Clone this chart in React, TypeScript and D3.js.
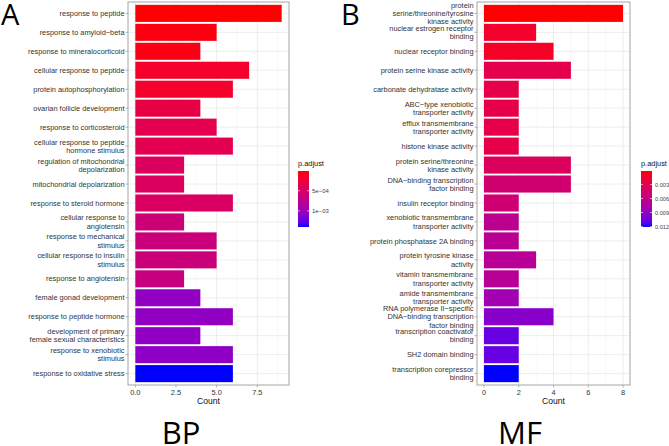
import React from "react";
import * as d3 from "d3";

// ---- BP panel data ----
const bpTerms = [
  "response to peptide",
  "response to amyloid\u2212beta",
  "response to mineralocorticoid",
  "cellular response to peptide",
  "protein autophosphorylation",
  "ovarian follicle development",
  "response to corticosteroid",
  "cellular response to peptide\nhormone stimulus",
  "regulation of mitochondrial\ndepolarization",
  "mitochondrial depolarization",
  "response to steroid hormone",
  "cellular response to\nangiotensin",
  "response to mechanical\nstimulus",
  "cellular response to insulin\nstimulus",
  "response to angiotensin",
  "female gonad development",
  "response to peptide hormone",
  "development of primary\nfemale sexual characteristics",
  "response to xenobiotic\nstimulus",
  "response to oxidative stress",
];
const bpCounts = [9, 5, 4, 7, 6, 4, 5, 6, 3, 3, 6, 3, 5, 5, 3, 4, 6, 4, 6, 6];
const bpPadj = [
  0.00001, 0.00005, 0.00006, 0.00015, 0.00016, 0.0003, 0.00035, 0.00036, 0.00045, 0.00045,
  0.00047, 0.0006, 0.00062, 0.00062, 0.00065, 0.00105, 0.00105, 0.00105, 0.00107, 0.0014,
];
const bpXTicks = [0, 2.5, 5, 7.5];
const bpXTickLabels = ["0.0", "2.5", "5.0", "7.5"];
const bpLegendTicks = [0.0005, 0.001];
const bpLegendLabels = ["5e\u221204", "1e\u221203"];

// ---- MF panel data ----
const mfTerms = [
  "protein\nserine/threonine/tyrosine\nkinase activity",
  "nuclear estrogen receptor\nbinding",
  "nuclear receptor binding",
  "protein serine kinase activity",
  "carbonate dehydratase activity",
  "ABC\u2212type xenobiotic\ntransporter activity",
  "efflux transmembrane\ntransporter activity",
  "histone kinase activity",
  "protein serine/threonine\nkinase activity",
  "DNA\u2212binding transcription\nfactor binding",
  "insulin receptor binding",
  "xenobiotic transmembrane\ntransporter activity",
  "protein phosphatase 2A binding",
  "protein tyrosine kinase\nactivity",
  "vitamin transmembrane\ntransporter activity",
  "amide transmembrane\ntransporter activity",
  "RNA polymerase II\u2212specific\nDNA\u2212binding transcription\nfactor binding",
  "transcription coactivator\nbinding",
  "SH2 domain binding",
  "transcription corepressor\nbinding",
];
const mfCounts = [8, 3, 4, 5, 2, 2, 2, 2, 5, 5, 2, 2, 2, 3, 2, 2, 4, 2, 2, 2];
const mfPadj = [
  0.0001, 0.0014, 0.0012, 0.003, 0.0028, 0.0028, 0.0028, 0.0028, 0.0038, 0.0048,
  0.005, 0.0065, 0.0066, 0.0068, 0.0068, 0.0082, 0.0095, 0.0107, 0.0107, 0.0121,
];
const mfXTicks = [0, 2, 4, 6, 8];
const mfXTickLabels = ["0", "2", "4", "6", "8"];
const mfLegendTicks = [0.003, 0.006, 0.009, 0.012];
const mfLegendLabels = ["0.003", "0.006", "0.009", "0.012"];

const FONT = "'Liberation Sans', Arial, Helvetica, sans-serif";
const BIG = "'Open Sans', 'Noto Sans', sans-serif";

type PanelProps = {
  terms: string[];
  counts: number[];
  padj: number[];
  xDomain: [number, number];
  xRange: [number, number];
  xTicks: number[];
  xTickLabels: string[];
  legendTicks: number[];
  legendLabels: string[];
  legendX: number;
  legendFont: number;
};

function Panel(p: PanelProps) {
  const top = 2;
  const bottom = 385;
  const [left, right] = p.xRange;
  const x = d3.scaleLinear().domain(p.xDomain).range(p.xRange);
  const y = d3
    .scaleBand<string>()
    .domain(p.terms)
    .range([top, bottom])
    .paddingInner(0.1)
    .paddingOuter(0.15);
  const step = y.step();
  const pMin = d3.min(p.padj) as number;
  const pMax = d3.max(p.padj) as number;
  const interp = d3.interpolateLab("#FF0000", "#0000FF");
  const color = (v: number) => interp((v - pMin) / (pMax - pMin));
  const minorTicks = p.xTicks
    .slice(0, -1)
    .map((t, i) => (t + p.xTicks[i + 1]) / 2)
    .concat([p.xTicks[p.xTicks.length - 1] + (p.xTicks[1] - p.xTicks[0]) / 2])
    .filter((t) => x(t) < right);

  // legend
  const lgTop = 171;
  const lgBottom = 227;
  const lgY = d3.scaleLinear().domain([pMin, pMax]).range([lgTop, lgBottom]);
  const gradId = "grad" + Math.round(left);
  const stops = d3.range(0, 1.0001, 0.05);

  return (
    <g>
      <rect x={left} y={top} width={right - left} height={bottom - top} fill="#fff" />
      {minorTicks.map((t, i) => (
        <line key={"mn" + i} x1={x(t)} x2={x(t)} y1={top} y2={bottom} stroke="#F2F2F2" strokeWidth={0.5} />
      ))}
      {p.terms.map((t) => (
        <line
          key={"hg" + t}
          x1={left}
          x2={right}
          y1={(y(t) as number) + y.bandwidth() / 2}
          y2={(y(t) as number) + y.bandwidth() / 2}
          stroke="#EBEBEB"
          strokeWidth={0.9}
        />
      ))}
      {p.xTicks.map((t, i) => (
        <line key={"vg" + i} x1={x(t)} x2={x(t)} y1={top} y2={bottom} stroke="#EBEBEB" strokeWidth={0.9} />
      ))}
      {p.terms.map((t, i) => (
        <rect
          key={"b" + t}
          x={x(0)}
          y={y(t) as number}
          width={x(p.counts[i]) - x(0)}
          height={y.bandwidth()}
          fill={color(p.padj[i])}
        />
      ))}
      <rect x={left} y={top} width={right - left} height={bottom - top} fill="none" stroke="#A6A6A6" strokeWidth={1} />
      {/* y axis labels */}
      {p.terms.map((t) => {
        const lines = t.split("\n");
        const cy = (y(t) as number) + y.bandwidth() / 2;
        const lh = 8.2;
        return (
          <g key={"yl" + t}>
            <line x1={left - 2.5} x2={left} y1={cy} y2={cy} stroke="#888" strokeWidth={0.6} />
            <text
              x={left - 3.5}
              textAnchor="end"
              fontFamily={FONT}
              fontSize={7.4}
              fill="#333"
            >
              {lines.map((ln, j) => (
                <tspan key={j} x={left - 3.5} y={cy - ((lines.length - 1) * lh) / 2 + j * lh + 2.6}>
                  {ln}
                </tspan>
              ))}
            </text>
          </g>
        );
      })}
      {/* x axis */}
      {p.xTicks.map((t, i) => (
        <g key={"xt" + i}>
          <line x1={x(t)} x2={x(t)} y1={bottom} y2={bottom + 2.5} stroke="#888" strokeWidth={0.6} />
          <text x={x(t)} y={bottom + 9.5} textAnchor="middle" fontFamily={FONT} fontSize={7.4} fill="#333">
            {p.xTickLabels[i]}
          </text>
        </g>
      ))}
      <text x={(left + right) / 2} y={bottom + 18.5} textAnchor="middle" fontFamily={FONT} fontSize={8.6} fill="#111">
        Count
      </text>
      {/* legend */}
      <defs>
        <linearGradient id={gradId} x1="0" y1="0" x2="0" y2="1">
          {stops.map((s, i) => (
            <stop key={i} offset={s} stopColor={interp(s)} />
          ))}
        </linearGradient>
      </defs>
      <text x={p.legendX} y={166} fontFamily={FONT} fontSize={7.4} fill="#111">
        p.adjust
      </text>
      <rect x={p.legendX} y={lgTop} width={11} height={lgBottom - lgTop} fill={`url(#${gradId})`} />
      {p.legendTicks.map((t, i) => (
        <g key={"lt" + i}>
          <line x1={p.legendX} x2={p.legendX + 2} y1={lgY(t)} y2={lgY(t)} stroke="#fff" strokeWidth={0.6} />
          <line x1={p.legendX + 9} x2={p.legendX + 11} y1={lgY(t)} y2={lgY(t)} stroke="#fff" strokeWidth={0.6} />
          <text x={p.legendX + 14} y={lgY(t) + 2} fontFamily={FONT} fontSize={p.legendFont} fill="#444">
            {p.legendLabels[i]}
          </text>
        </g>
      ))}
    </g>
  );
}

export default function App() {
  return (
    <svg
      width={669}
      height={446}
      viewBox="0 0 669 446"
      style={{ position: "absolute", left: 0, top: 0, background: "#fff" }}
    >
      <rect width={669} height={446} fill="#fff" />
      <Panel
        terms={bpTerms}
        counts={bpCounts}
        padj={bpPadj}
        xDomain={[-0.45, 9.45]}
        xRange={[128, 289]}
        xTicks={bpXTicks}
        xTickLabels={bpXTickLabels}
        legendTicks={bpLegendTicks}
        legendLabels={bpLegendLabels}
        legendX={298}
        legendFont={6}
      />
      <Panel
        terms={mfTerms}
        counts={mfCounts}
        padj={mfPadj}
        xDomain={[-0.4, 8.4]}
        xRange={[477, 630]}
        xTicks={mfXTicks}
        xTickLabels={mfXTickLabels}
        legendTicks={mfLegendTicks}
        legendLabels={mfLegendLabels}
        legendX={641}
        legendFont={5.6}
      />
      <text x={1} y={25} fontFamily={BIG} fontSize={29} fill="#000">A</text>
      <text x={341} y={25} fontFamily={BIG} fontSize={29} fill="#000">B</text>
      <text x={181} y={444} textAnchor="middle" fontFamily={BIG} fontSize={31} fill="#000">BP</text>
      <text x={520} y={444} textAnchor="middle" fontFamily={BIG} fontSize={31} fill="#000">MF</text>
    </svg>
  );
}
